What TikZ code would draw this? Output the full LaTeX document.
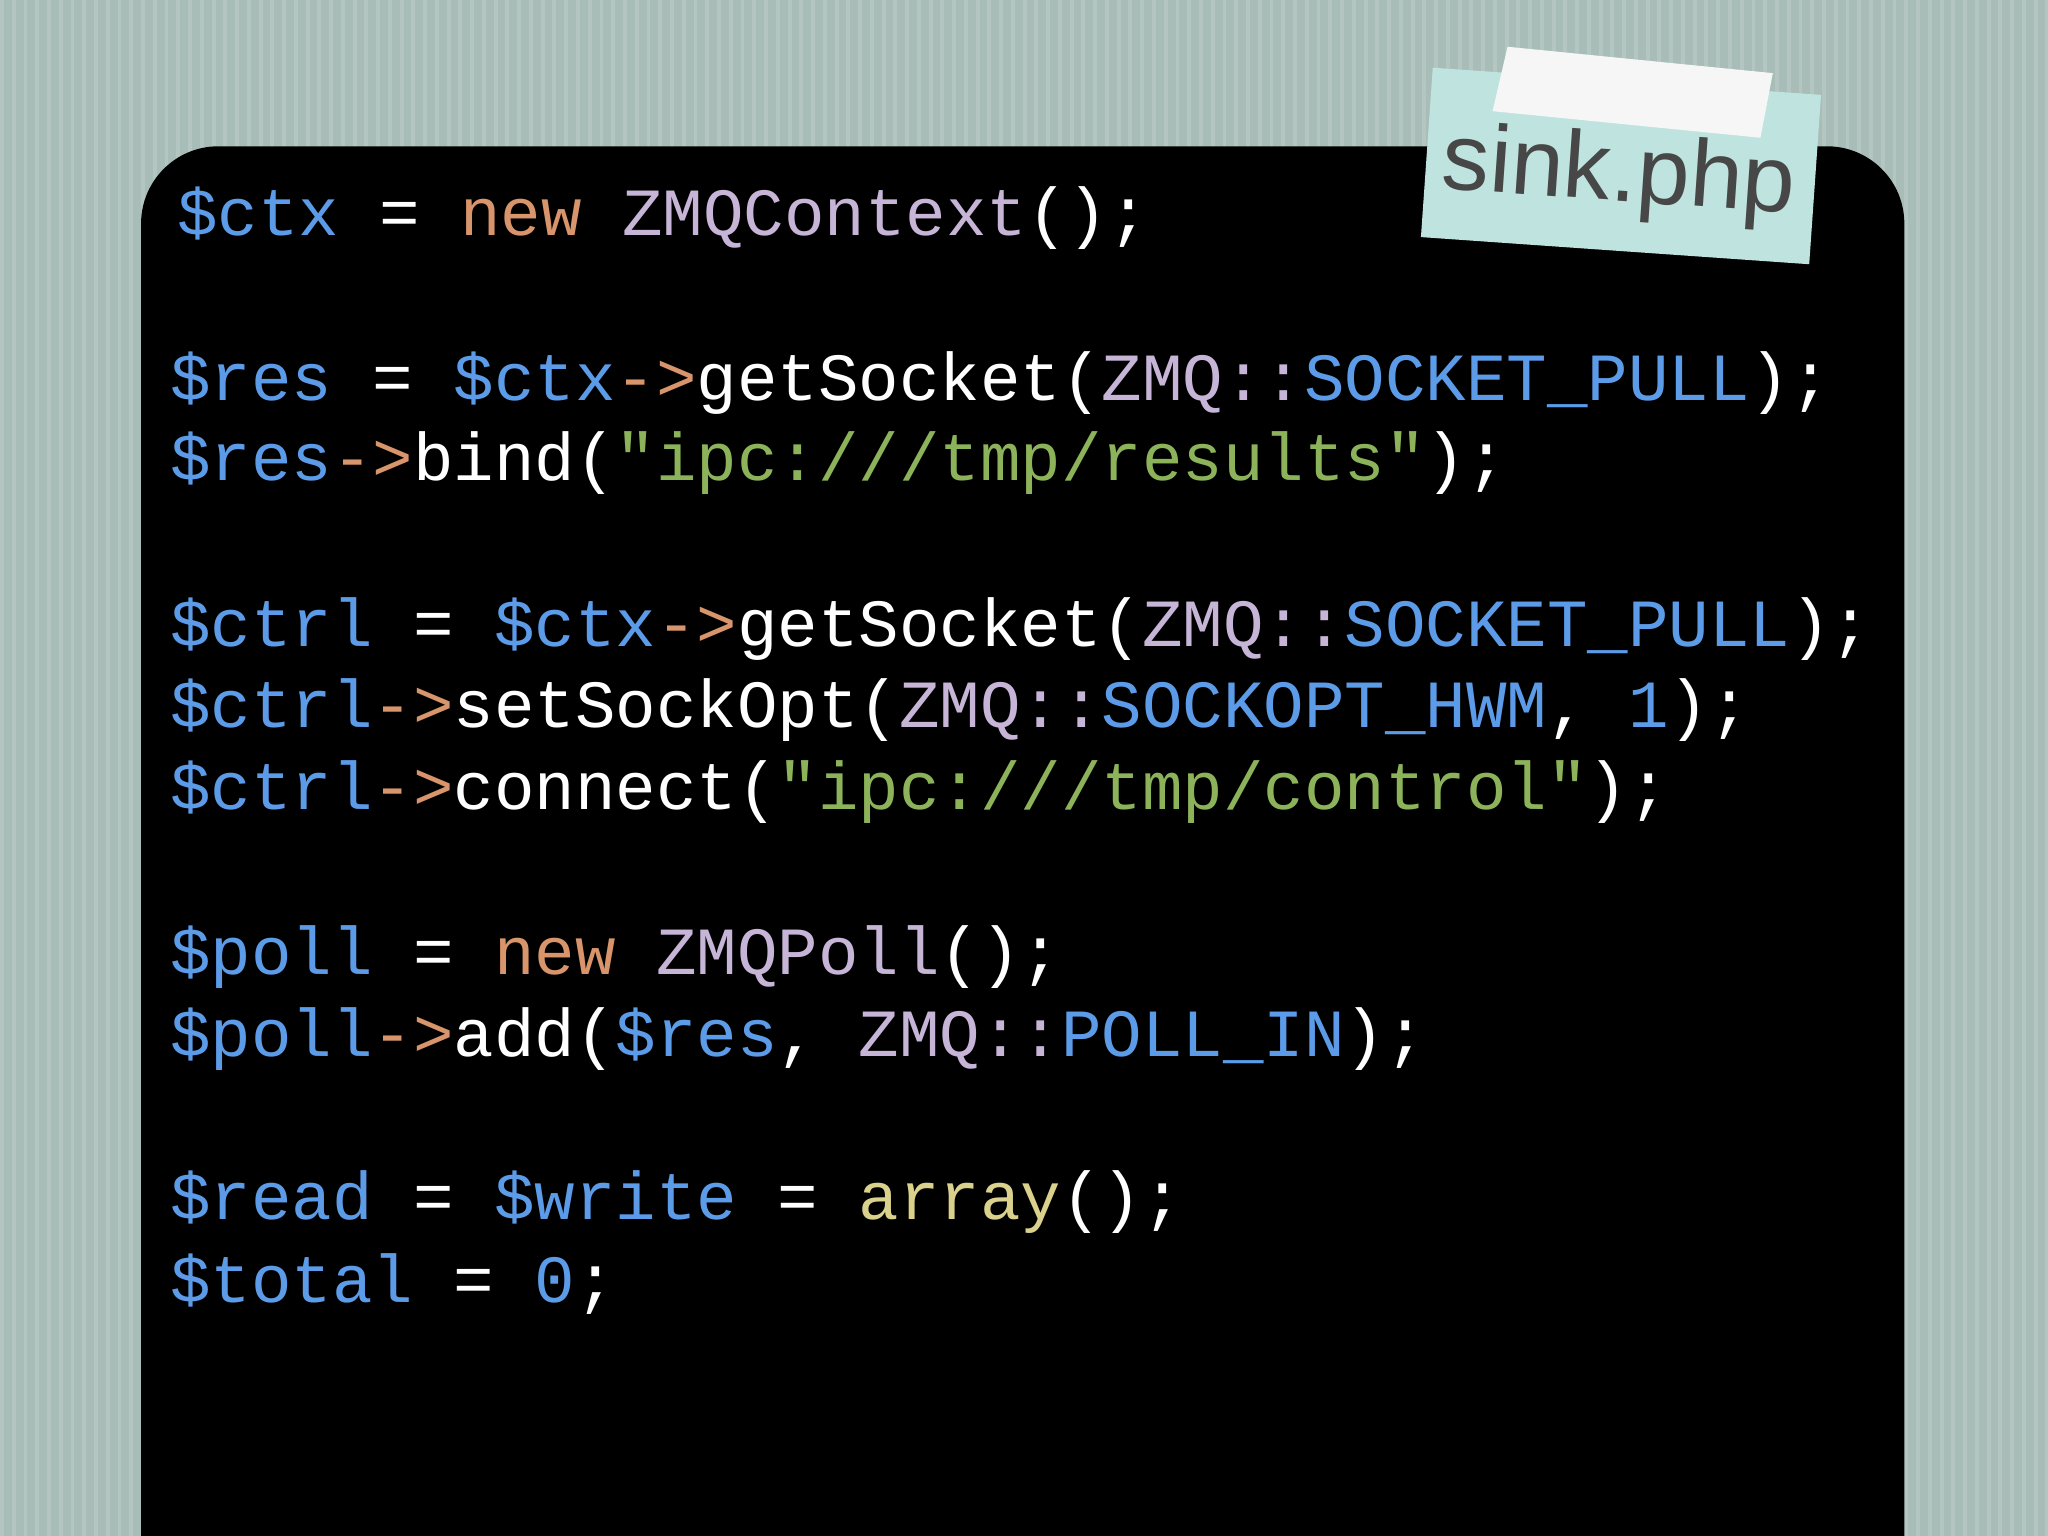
\documentclass[tikz,border=0pt]{standalone}
\usepackage{fontspec}
\setmonofont{Liberation Mono}
\setsansfont{Liberation Sans}
\definecolor{bg}{HTML}{A8BDB8}
\definecolor{stripe}{HTML}{B3C6C1}
\definecolor{cv}{HTML}{5C9BE8}
\definecolor{co}{HTML}{D8946A}
\definecolor{cl}{HTML}{C7B5D8}
\definecolor{cg}{HTML}{8DB35A}
\definecolor{cy}{HTML}{D9D18C}
\definecolor{tape}{HTML}{BFE4DF}
\newcommand{\V}[1]{\textcolor{cv}{#1}}
\newcommand{\Ok}[1]{\textcolor{co}{#1}}
\newcommand{\Lc}[1]{\textcolor{cl}{#1}}
\newcommand{\G}[1]{\textcolor{cg}{#1}}
\newcommand{\Y}[1]{\textcolor{cy}{#1}}
\begin{document}
\begin{tikzpicture}[x=0.013061cm,y=-0.013061cm,
  code/.style={anchor=base west,inner sep=0,text=white,font=\ttfamily\fontsize{19.2pt}{23pt}\selectfont}]
\useasboundingbox (0,0) rectangle (1568,1176);
\fill[bg] (0,0) rectangle (1568,1176);
\foreach \i in {0,9,...,1568} \fill[stripe] (\i,0) rectangle ++(3,1176);
\fill[black,rounded corners=22] (108,1400) -- (108,112) -- (1458,112) -- (1458,1400) -- cycle;
\node[code] (l1) at (135,180) {\V{\$ctx} = \Ok{new} \Lc{ZMQContext}();};
\node[code] (l2) at (130,307) {\V{\$res} = \V{\$ctx}\Ok{->}getSocket(\Lc{ZMQ::}\V{SOCKET\_PULL});};
\node[code] (l3) at (130,368) {\V{\$res}\Ok{->}bind(\G{"ipc:///tmp/results"});};
\node[code] (l4) at (130,495) {\V{\$ctrl} = \V{\$ctx}\Ok{->}getSocket(\Lc{ZMQ::}\V{SOCKET\_PULL});};
\node[code] (l5) at (130,557) {\V{\$ctrl}\Ok{->}setSockOpt(\Lc{ZMQ::}\V{SOCKOPT\_HWM}, \V{1});};
\node[code] (l6) at (130,620) {\V{\$ctrl}\Ok{->}connect(\G{"ipc:///tmp/control"});};
\node[code] (l7) at (130,746) {\V{\$poll} = \Ok{new} \Lc{ZMQPoll}();};
\node[code] (l8) at (130,809) {\V{\$poll}\Ok{->}add(\V{\$res}, \Lc{ZMQ::}\V{POLL\_IN});};
\node[code] (l9) at (130,934) {\V{\$read} = \V{\$write} = \Y{array}();};
\node[code] (l10) at (130,997) {\V{\$total} = \V{0};};
\begin{scope}[rotate around={-4:(1240,128)}]
\fill[tape] (1092,62) rectangle (1390,192);
\node[inner sep=0,text=black!72,font=\sffamily\fontsize{27pt}{30pt}\selectfont,rotate=-4] (lab) at (1240,135) {sink.php};
\fill[white!93!gray] (1148,42) -- (1352,48) -- (1346,98) -- (1140,92) -- cycle;
\end{scope}
\end{tikzpicture}
\end{document}
